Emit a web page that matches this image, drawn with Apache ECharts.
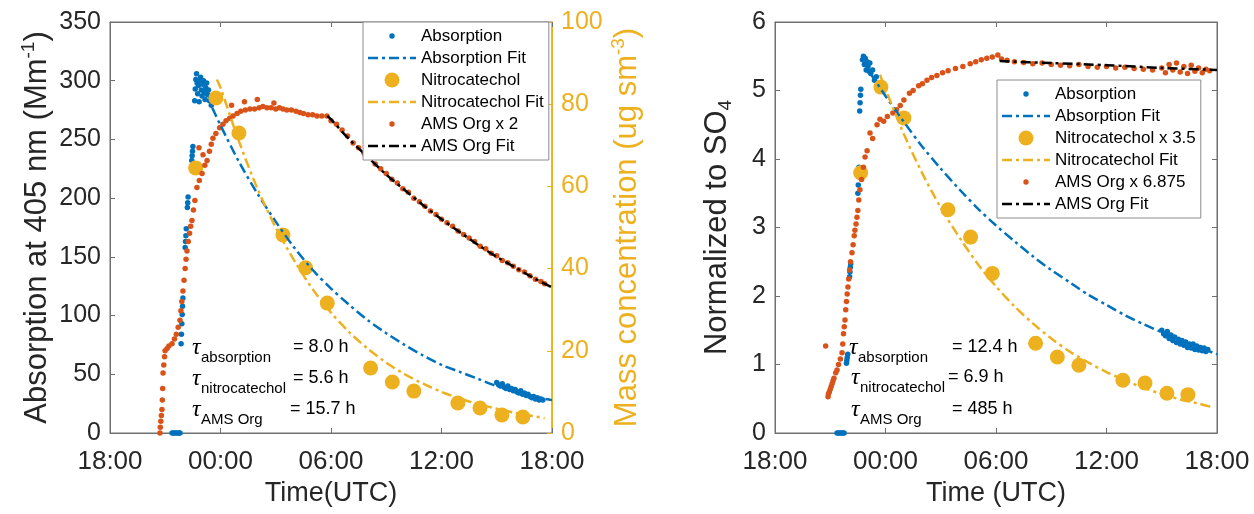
<!DOCTYPE html>
<html><head><meta charset="utf-8">
<script src="https://cdn.jsdelivr.net/npm/echarts@6/dist/echarts.min.js"></script>
<style>html,body{margin:0;padding:0;background:#fff}#c{width:1254px;height:514px}</style>
</head><body><div id="c"></div>
<script>
// hours after 18:00 on the first day
const xTickLabels = ['18:00', '00:00', '06:00', '12:00', '18:00'];

// ---------- left panel ----------
const absorptionL = [
  [3.37,0],[3.45,0],[3.52,0],[3.6,0],[3.68,0],[3.75,0],[3.8,0],
  [3.86,76],[3.88,84],[3.9,93],[3.92,101],[3.94,108],[3.96,115],
  [4.08,158],[4.1,163],[4.12,168],[4.14,174],
  [4.2,192],[4.22,196],[4.24,201],
  [4.44,232],[4.46,236],[4.48,240],[4.5,244],
  [4.6,283],[4.63,293],[4.66,301],[4.7,306],[4.73,298],[4.76,289],[4.8,296],[4.84,282],[4.88,300],
  [4.92,303],[4.96,292],[5.0,287],[5.04,297],[5.08,300],[5.12,290],[5.16,284],[5.2,294],[5.25,298],
  [5.3,288],[5.35,292],[5.4,283],[5.45,287],[5.5,279],
  [21.0,43],[21.1,41],[21.2,40],[21.3,42],[21.4,39],[21.5,38],[21.6,40],[21.7,37],[21.8,38],[21.9,36],
  [22.0,37],[22.1,35],[22.2,34],[22.3,36],[22.4,33],[22.5,34],[22.6,32],[22.7,33],[22.8,31],[22.9,30],
  [23.0,31],[23.1,29],[23.2,30],[23.3,28],[23.4,29],[23.5,28]
];
const absorptionFitL = [
  [5.55,277],[6,262],[7,231],[8,204],[9,180],[10,158],[11,139],[12,123],[13,109],[14,96],
  [15,85],[16,75],[17,66],[18,58],[19,52],[20,46],[21,40],[22,36],[23,31],[24,28]
];
const nitroTimes = [4.65, 5.75, 7.0, 9.39, 10.62, 11.8, 14.15, 15.33, 16.5, 18.89, 20.09, 21.28, 22.42];
const nitroL = [64.5, 81.5, 73, 48.2, 40.2, 31.6, 15.8, 12.4, 10.2, 7.3, 6.1, 4.4, 3.9];
const nitroFitL = [
  [5.8,86],[6,84],[7,71],[8,59.5],[9,50],[10,42],[11,35],[12,29.3],[13,24.5],[14,20.5],
  [15,17.1],[16,14.3],[17,12],[18,10],[19,8.4],[20,7],[21,5.9],[22,4.9],[23,4.1],[23.6,3.6]
];
const amsL = [
  [2.71,0],[2.73,5],[2.76,10],[2.79,15],[2.82,20],[2.84,28],[2.86,38],[2.88,51],[2.92,58],[2.96,65],
  [2.99,70],[3.1,72],[3.2,74],[3.37,76],[3.5,80],[3.6,84],[3.7,90],[3.8,96],[3.85,104],[3.9,112],
  [3.96,121],[4.02,130],[4.08,140],[4.13,148],[4.18,155],[4.25,163],[4.32,170],[4.38,176],[4.45,181],
  [4.53,190],[4.61,198],[4.72,209],[4.83,243],[4.85,215],[5.0,221],[5.05,237],[5.15,228],[5.27,232],
  [5.4,240],[5.5,246],[5.59,251],[5.75,255],[5.95,260],[6.13,263],[6.3,266],[6.5,268],[6.6,279],
  [6.68,270],[6.9,272],[7.1,274],[7.3,282],[7.35,275],[7.6,276],[7.85,276],[8.0,284],[8.1,277],
  [8.3,278],[8.52,277],[8.75,277],[8.9,281],[9.0,276],[9.2,277],[9.39,276],[9.6,275],[9.85,275],
  [10.1,274],[10.31,273],[10.5,272],[10.75,271],[11.0,271],[11.24,270],[11.5,270],[11.78,270],
  [12.0,266],[12.3,263],[12.6,258],[12.9,253],[13.2,247],[13.5,243],[13.8,238],[14.1,235],[14.4,229],
  [14.7,225],[15.0,221],[15.3,216],[15.6,213],[15.9,208],[16.2,205],[16.5,200],[16.8,197],[17.1,193],
  [17.4,189],[17.7,186],[18.0,182],[18.3,179],[18.6,176],[18.9,172],[19.2,169],[19.5,166],[19.8,163],
  [20.1,159],[20.4,157],[20.7,153],[21.0,151],[21.3,147],[21.6,145],[21.9,142],[22.2,139],[22.5,137],
  [22.8,134],[23.1,131],[23.4,129],[23.6,127]
];
const amsFitL = [
  [11.8,270],[12,267],[13,250],[14,235],[15,220],[16,207],[17,194],[18,182],[19,171],[20,160],
  [21,150],[22,141],[23,132],[24,124]
];

// ---------- right panel ----------
const absorptionR = [
  [3.37,0],[3.45,0],[3.52,0],[3.6,0],[3.68,0],[3.75,0],
  [3.88,1.02],[3.9,1.06],[3.92,1.1],[3.95,1.15],
  [4.05,2.28],[4.07,2.35],[4.09,2.42],[4.11,2.47],
  [4.5,3.5],[4.52,3.62],[4.54,3.74],[4.56,3.88],
  [4.6,4.7],[4.62,4.82],[4.64,4.93],[4.66,5.02],
  [4.75,5.45],[4.8,5.5],[4.85,5.38],[4.9,5.47],[4.95,5.3],[5.0,5.42],[5.05,5.35],[5.1,5.28],[5.15,5.4],
  [5.2,5.25],[5.3,5.3],[5.4,5.15],[5.5,5.2],[5.6,5.1],[5.7,5.05],
  [21.0,1.5],[21.1,1.45],[21.2,1.42],[21.3,1.48],[21.4,1.38],[21.5,1.43],[21.6,1.35],[21.7,1.4],
  [21.8,1.32],[21.9,1.37],[22.0,1.3],[22.1,1.35],[22.2,1.28],[22.3,1.33],[22.4,1.25],[22.5,1.3],
  [22.6,1.24],[22.7,1.3],[22.8,1.22],[22.9,1.27],[23.0,1.21],[23.1,1.25],[23.2,1.2],[23.3,1.24],
  [23.4,1.19],[23.5,1.22]
];
const absorptionFitR = [
  [5.16,5.26],[6,4.92],[7,4.54],[8,4.18],[9,3.86],[10,3.56],[11,3.28],[12,3.03],[13,2.8],[14,2.58],
  [15,2.38],[16,2.2],[17,2.02],[18,1.87],[19,1.72],[20,1.59],[21,1.47],[22,1.35],[23,1.25],[24,1.15]
];
const nitroR = [3.8, 5.05, 4.6, 3.26, 2.86, 2.33, 1.31, 1.11, 0.99, 0.77, 0.73, 0.58, 0.56];
const nitroFitR = [
  [5.7,5.23],[6,5.02],[7,4.36],[8,3.79],[9,3.29],[10,2.86],[11,2.47],[12,2.14],[13,1.85],[14,1.6],
  [15,1.38],[16,1.19],[17,1.03],[18,0.89],[19,0.77],[20,0.66],[21,0.57],[22,0.49],[23,0.43],[23.7,0.38]
];
const amsR = [
  [2.75,1.27],[2.88,0.53],[2.9,0.57],[2.95,0.6],[3.0,0.64],[3.05,0.68],[3.1,0.72],[3.15,0.76],[3.2,0.8],
  [3.3,0.88],[3.37,0.92],[3.45,1.0],[3.55,1.08],[3.64,1.17],[3.68,1.3],[3.72,1.45],[3.76,1.55],[3.8,1.65],
  [3.84,1.8],[3.88,1.92],[3.92,2.03],[3.96,2.13],[4.0,2.25],[4.05,2.38],[4.1,2.5],[4.18,2.63],[4.24,2.75],
  [4.3,2.88],[4.34,2.96],[4.4,3.05],[4.45,3.15],[4.5,3.25],[4.55,3.4],[4.61,3.55],[4.7,3.7],[4.8,3.88],
  [4.89,4.03],[5.0,4.12],[5.16,4.38],[5.3,4.3],[5.54,4.5],[5.7,4.58],[5.9,4.55],[6.1,4.62],[6.4,4.67],
  [6.6,4.72],[6.8,4.78],[7.0,4.86],[7.3,4.96],[7.5,5.0],[7.8,5.07],[8.0,5.1],[8.25,5.15],[8.5,5.19],
  [8.79,5.22],[9.1,5.26],[9.4,5.29],[9.8,5.32],[10.2,5.35],[10.6,5.39],[10.9,5.42],[11.2,5.45],[11.5,5.47],
  [11.8,5.49],[12.1,5.52],[12.3,5.46],[12.6,5.44],[13,5.42],[13.5,5.41],[14,5.39],[14.5,5.4],[15,5.38],
  [15.5,5.37],[16,5.36],[16.5,5.38],[17,5.35],[17.5,5.34],[18,5.35],[18.5,5.33],[19,5.34],[19.5,5.32],
  [20,5.31],[20.5,5.3],[21,5.33],[21.2,5.26],[21.4,5.38],[21.6,5.3],[21.8,5.4],[22,5.27],[22.2,5.35],
  [22.4,5.25],[22.6,5.37],[22.8,5.28],[23,5.33],[23.2,5.26],[23.4,5.31],[23.6,5.29]
];
const amsFitR = [[12.2,5.43],[15,5.4],[18,5.37],[21,5.33],[24,5.3]];

// ---------- styling ----------
const BLUE = '#0072BD', ORANGE = '#D95319', YELLOW = '#EDB120', BLACK = '#000000';
const AX = '#707070', TXT = '#262626';
const FONT = 'Arial, "Liberation Sans", Helvetica, sans-serif';
const DASH = [10, 4, 3, 4];

const smallDot = 'path://M0,0M18,18M9,6.3A2.7,2.7,0,1,1,9,11.7A2.7,2.7,0,1,1,9,6.3Z';
const bigDot = 'path://M0,0M18,18M9,1.5A7.5,7.5,0,1,1,9,16.5A7.5,7.5,0,1,1,9,1.5Z';
const dashIcon = 'path://M0,0M48,18M0,7.75L10,7.75L10,10.25L0,10.25ZM14,7.75L17,7.75L17,10.25L14,10.25Z' +
  'M21,7.75L31,7.75L31,10.25L21,10.25ZM35,7.75L38,7.75L38,10.25L35,10.25ZM42,7.75L48,7.75L48,10.25L42,10.25Z';

function pair(times, vals) { return times.map((t, i) => [t, vals[i]]); }
function sc(name, data, color, size, xi, yi) {
  return { type: 'scatter', name, data, xAxisIndex: xi, yAxisIndex: yi, symbol: 'circle',
    symbolSize: size, itemStyle: { color, opacity: 1 }, silent: true };
}
function ln(name, data, color, xi, yi) {
  return { type: 'line', name, data, xAxisIndex: xi, yAxisIndex: yi, smooth: 0.3, symbol: 'none',
    showSymbol: false, lineStyle: { color, width: 2.5, type: DASH }, itemStyle: { color }, silent: true };
}
function xAx(gi, bottom, title) {
  return {
    type: 'value', gridIndex: gi, position: bottom ? 'bottom' : 'top', min: 0, max: 24, interval: 6,
    axisLine: { show: true, onZero: false, lineStyle: { color: AX, width: 1 } },
    axisTick: { show: true, inside: true, length: 5, lineStyle: { color: AX } },
    axisLabel: { show: bottom, margin: 16, fontSize: 26, color: TXT, fontFamily: FONT,
      showMinLabel: true, showMaxLabel: true, formatter: v => xTickLabels[Math.round(v / 6)] },
    splitLine: { show: false },
    name: bottom ? title : '', nameLocation: 'middle', nameGap: 44,
    nameTextStyle: { fontSize: 27, color: TXT, fontFamily: FONT }
  };
}
function yAx(gi, pos, min, max, interval, color, showLabel, name, nameGap, rich) {
  return {
    type: 'value', gridIndex: gi, position: pos, min, max, interval,
    axisLine: { show: true, onZero: false, lineStyle: { color, width: 1 } },
    axisTick: { show: true, inside: true, length: 5, lineStyle: { color } },
    axisLabel: { show: showLabel, margin: 9, fontSize: 25, color: pos === 'right' && color === YELLOW ? YELLOW : TXT,
      fontFamily: FONT, showMinLabel: true, showMaxLabel: true },
    splitLine: { show: false },
    name: name || '', nameLocation: 'middle', nameGap: nameGap || 0,
    nameTextStyle: { fontFamily: FONT, color: color === YELLOW ? YELLOW : TXT, rich: rich || {} }
  };
}
const richSup = (c) => ({
  n: { fontSize: 31, lineHeight: 36, color: c, fontFamily: FONT },
  sup: { fontSize: 19, lineHeight: 19, verticalAlign: 'top', color: c, fontFamily: FONT },
  sub: { fontSize: 19, lineHeight: 19, verticalAlign: 'bottom', color: c, fontFamily: FONT }
});

const legendCommon = {
  orient: 'vertical', itemWidth: 48, itemHeight: 18, itemGap: 4, padding: [5, 5, 5, 5],
  backgroundColor: '#ffffff', borderColor: '#8c8c8c', borderWidth: 1, borderRadius: 0,
  selectedMode: false, textStyle: { fontSize: 17, color: '#000', fontFamily: FONT }
};

function tauText(x, y, sub, val, vx) {
  return [
    { type: 'text', x: x, y: y, z: 100, style: { text: 'τ', fontSize: 24, fontStyle: 'italic',
      fontFamily: '"Liberation Serif", "DejaVu Serif", serif', fill: '#000', verticalAlign: 'middle' } },
    { type: 'text', x: x + 9, y: y + 10, z: 100, style: { text: sub, fontSize: 15, fontFamily: FONT,
      fill: '#000', verticalAlign: 'middle' } },
    { type: 'text', x: vx, y: y - 1, z: 100, style: { text: val, fontSize: 18, fontFamily: FONT,
      fill: '#000', verticalAlign: 'middle' } }
  ];
}

const option = {
  animation: false,
  backgroundColor: '#ffffff',
  grid: [
    { left: 110, top: 22, width: 442, height: 411, containLabel: false, show: true,
      borderColor: AX, borderWidth: 1, backgroundColor: 'transparent' },
    { left: 775, top: 22, width: 442, height: 411, containLabel: false, show: true,
      borderColor: AX, borderWidth: 1, backgroundColor: 'transparent' }
  ],
  xAxis: [xAx(0, true, 'Time(UTC)'), xAx(0, false), xAx(1, true, 'Time (UTC)'), xAx(1, false)],
  yAxis: [
    yAx(0, 'left', 0, 350, 50, AX, true, '{n|Absorption at 405 nm (Mm}{sup|-1}{n|)}', 55, richSup(TXT)),
    yAx(0, 'right', 0, 100, 20, YELLOW, true, '{n|Mass concentration (ug sm}{sup|-3}{n|)}', 57, richSup(YELLOW)),
    yAx(1, 'left', 0, 6, 1, AX, true, '{n|Normalized to SO}{sub|4}', 40, richSup(TXT)),
    yAx(1, 'right', 0, 6, 1, AX, false)
  ],
  legend: [
    Object.assign({}, legendCommon, { left: 363, top: 22, data: [
      { name: 'Absorption', icon: smallDot },
      { name: 'Absorption Fit', icon: dashIcon },
      { name: 'Nitrocatechol', icon: bigDot },
      { name: 'Nitrocatechol Fit', icon: dashIcon },
      { name: 'AMS Org x 2', icon: smallDot },
      { name: 'AMS Org Fit', icon: dashIcon }
    ] }),
    Object.assign({}, legendCommon, { left: 997, top: 80, data: [
      { name: 'Absorption', icon: smallDot },
      { name: 'Absorption Fit', icon: dashIcon },
      { name: 'Nitrocatechol x 3.5', icon: bigDot },
      { name: 'Nitrocatechol Fit', icon: dashIcon },
      { name: 'AMS Org x 6.875', icon: smallDot },
      { name: 'AMS Org Fit', icon: dashIcon }
    ] })
  ],
  series: [
    sc('Absorption', absorptionL, BLUE, 5.5, 0, 0),
    ln('Absorption Fit', absorptionFitL, BLUE, 0, 0),
    sc('Nitrocatechol', pair(nitroTimes, nitroL), YELLOW, 15, 0, 1),
    ln('Nitrocatechol Fit', nitroFitL, YELLOW, 0, 1),
    sc('AMS Org x 2', amsL, ORANGE, 5.5, 0, 0),
    ln('AMS Org Fit', amsFitL, BLACK, 0, 0),

    sc('Absorption', absorptionR, BLUE, 5.5, 2, 2),
    ln('Absorption Fit', absorptionFitR, BLUE, 2, 2),
    sc('Nitrocatechol x 3.5', pair(nitroTimes, nitroR), YELLOW, 15, 2, 2),
    ln('Nitrocatechol Fit', nitroFitR, YELLOW, 2, 2),
    sc('AMS Org x 6.875', amsR, ORANGE, 5.5, 2, 2),
    ln('AMS Org Fit', amsFitR, BLACK, 2, 2)
  ],
  graphic: [].concat(
    tauText(192, 348, 'absorption', '= 8.0 h', 293),
    tauText(192, 379, 'nitrocatechol', '= 5.6 h', 293),
    tauText(192, 410, 'AMS Org', '= 15.7 h', 290),
    tauText(849, 348, 'absorption', '= 12.4 h', 952),
    tauText(851, 378, 'nitrocatechol', '= 6.9 h', 948),
    tauText(851, 410, 'AMS Org', '= 485 h', 952)
  )
};

const chart = echarts.init(document.getElementById('c'), null, { renderer: 'canvas' });
chart.setOption(option);
</script>
</body></html>
